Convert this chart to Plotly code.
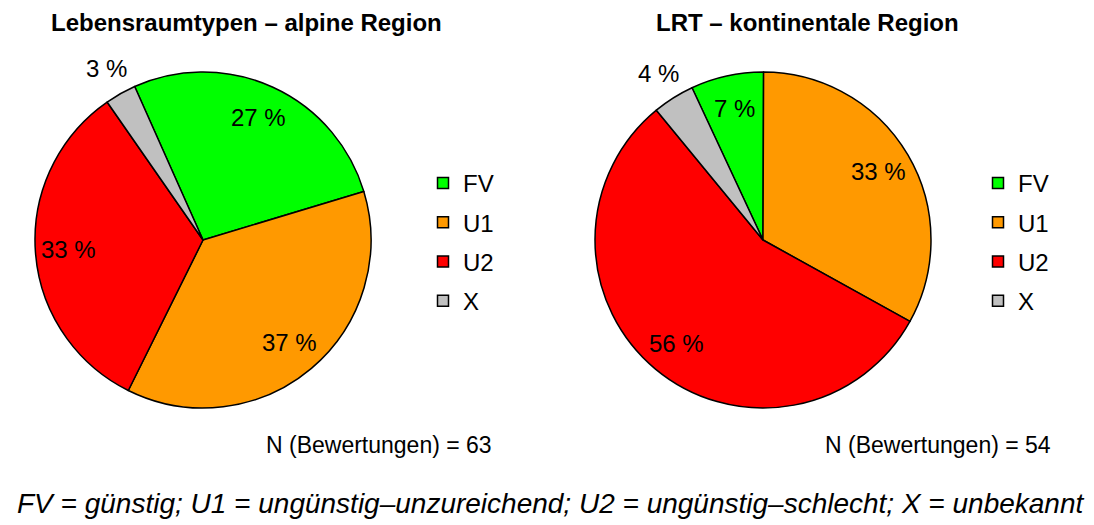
import math
import plotly.graph_objects as go

# ---- data ----
categories = ["FV", "U1", "U2", "X"]
alpine_pct = [27, 37, 33, 3]
kont_pct = [7, 33, 56, 4]
colors = ["#00FF00", "#FF9900", "#FF0000", "#C0C0C0"]
label_inside = [True, True, True, False]
title_alpine = "Lebensraumtypen – alpine Region"
title_kont = "LRT – kontinentale Region"
n_alpine = 63
n_kont = 54
footnote = "FV = günstig; U1 = ungünstig–unzureichend; U2 = ungünstig–schlecht; X = unbekannt"

FONT = "Liberation Sans, Arial, sans-serif"
OFF = 8                      # page body margin around the figure
W, H = 1094 - OFF, 525 - OFF


def px(xp):
    return (xp - OFF) / W


def py(yp):
    return 1 - (yp - OFF) / H


fig = go.Figure()
ann = []

R = 168


def add_pie(values, cx, cy, rotation):
    fig.add_trace(go.Pie(
        labels=categories, values=values, sort=False, direction="clockwise",
        rotation=rotation,
        marker=dict(colors=colors, line=dict(color="black", width=1.5)),
        textinfo="none",
        domain=dict(x=[px(cx - R), px(cx + R)], y=[py(cy + R), py(cy - R)]),
        showlegend=False, hoverinfo="label+value",
    ))
    total = sum(values)
    start = rotation
    for v, inside in zip(values, label_inside):
        span = 360 * v / total
        mid = math.radians(start + span / 2)
        f = 0.8 if inside else 1.17
        ann.append(dict(text=f"{v} %", x=px(cx + R * f * math.sin(mid)),
                        y=py(cy - R * f * math.cos(mid)),
                        font=dict(family=FONT, size=24, color="black")))
        start += span


add_pie(alpine_pct, 203, 240, -24)
add_pie(kont_pct, 763, 240, -25)

# legend entries (one group each, so spacing can be set)
for lg in ["legend", "legend2"]:
    for cat, col in zip(categories, colors):
        fig.add_trace(go.Scatter(
            x=[None], y=[None], mode="markers", name=cat,
            marker=dict(symbol="square", size=11, color=col,
                        line=dict(color="black", width=1.5)),
            legend=lg, legendgroup=lg + cat, showlegend=True,
        ))

legend_common = dict(
    font=dict(family=FONT, size=24, color="black"),
    tracegroupgap=5, bgcolor="rgba(0,0,0,0)", borderwidth=0,
    xanchor="left", yanchor="top", itemclick=False, itemdoubleclick=False,
)
fig.update_layout(
    legend=dict(x=px(423), y=py(161), **legend_common),
    legend2=dict(x=px(978), y=py(161), **legend_common),
)

ann.append(dict(text="<b>" + title_alpine + "</b>", x=px(246), y=py(22),
                font=dict(family=FONT, size=24, color="black")))
ann.append(dict(text="<b>" + title_kont + "</b>", x=px(807), y=py(22),
                font=dict(family=FONT, size=24, color="black")))
ann.append(dict(text=f"N (Bewertungen) = {n_alpine}", x=px(494), y=py(445),
                xanchor="right", font=dict(family=FONT, size=23, color="black")))
ann.append(dict(text=f"N (Bewertungen) = {n_kont}", x=px(1053), y=py(445),
                xanchor="right", font=dict(family=FONT, size=23, color="black")))
ann.append(dict(text="<i>" + footnote + "</i>", x=px(551), y=py(503),
                font=dict(family=FONT, size=28, color="black")))
for a in ann:
    a.update(xref="paper", yref="paper", showarrow=False, yanchor="middle")
    a.setdefault("xanchor", "center")

fig.update_layout(
    annotations=ann,
    width=W, height=H,
    margin=dict(l=0, r=0, t=0, b=0),
    paper_bgcolor="white", plot_bgcolor="white",
    xaxis=dict(visible=False), yaxis=dict(visible=False),
    font=dict(family=FONT, color="black"),
)

fig.write_html("out.html")
